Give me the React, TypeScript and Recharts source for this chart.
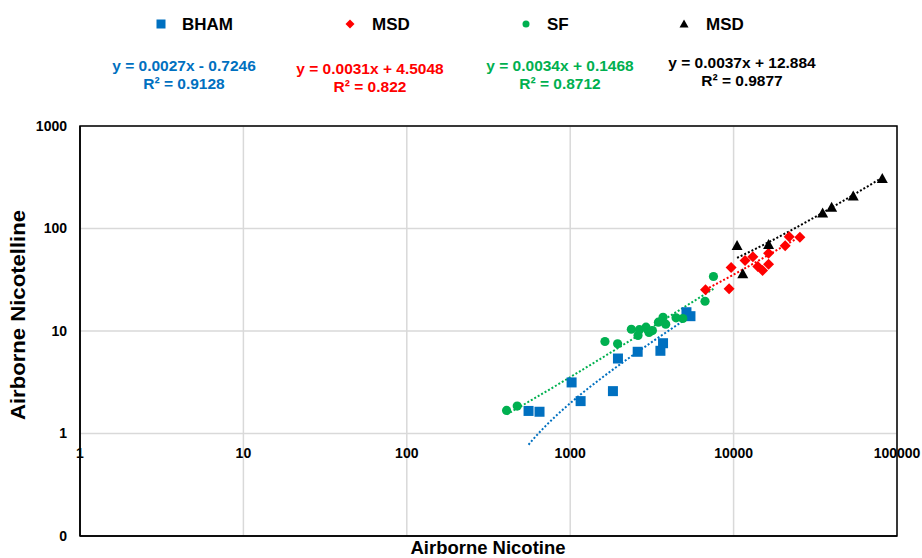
import React from 'react';
import { ScatterChart, Scatter, XAxis, YAxis, CartesianGrid, ReferenceArea } from 'recharts';

// ---- data ----
const bhamX = [556, 649, 1020, 1158, 1826, 1960, 2588, 3565, 3700, 5146, 5445];
const bhamY = [1.66, 1.63, 3.15, 2.07, 2.59, 5.39, 6.27, 6.41, 7.6, 15.25, 13.95];

const msdRedX = [6730, 9385, 9660, 11750, 13120, 14070, 15040, 16370, 16370, 20690, 21880, 25440];
const msdRedY = [25.2, 25.8, 41.6, 48.7, 52.9, 42.6, 38.9, 44.8, 57.4, 67.8, 83.0, 82.2];

const sfX = [408, 474, 1632, 1950, 2367, 2600, 2651, 2910, 3035, 3185, 3466, 3700, 3843, 4443, 4885, 6685, 7530];
const sfY = [1.68, 1.85, 7.9, 7.5, 10.4, 9.04, 10.3, 10.9, 9.67, 10.1, 12.2, 13.6, 11.65, 13.45, 13.24, 19.5, 34.0];

const msdBlackX = [10500, 11380, 16370, 35060, 39810, 53970, 81280];
const msdBlackY = [68.3, 36.1, 69.8, 142, 161, 208, 307];

const seriesNames = ['BHAM', 'MSD', 'SF', 'MSD'];
const seriesColors = ['#0070C0', '#FF0000', '#00B050', '#000000'];

// trendline coefficients as displayed (y = slope * x + intercept)
const trendSlopes = [0.0027, 0.0031, 0.0034, 0.0037];
const trendIntercepts = [-0.7246, 4.5048, 0.1468, 12.884];
const trendEquations = ['y = 0.0027x - 0.7246', 'y = 0.0031x + 4.5048', 'y = 0.0034x + 0.1468', 'y = 0.0037x + 12.884'];
const trendR2 = ['R² = 0.9128', 'R² = 0.822', 'R² = 0.8712', 'R² = 0.9877'];

const xTicks = [1, 10, 100, 1000, 10000, 100000];
const yTicks = [0.1, 1, 10, 100, 1000];

const FONT = '"Liberation Sans", Arial, sans-serif';

const zip = (xs: number[], ys: number[]) => xs.map((x, i) => ({ x, y: ys[i] }));

const seriesData = [zip(bhamX, bhamY), zip(msdRedX, msdRedY), zip(sfX, sfY), zip(msdBlackX, msdBlackY)];

// trendline drawn along each series' x range from the displayed equation
const trendData = seriesData.map((d, i) => {
  const xs = d.map((p) => p.x);
  const lo = Math.log10(Math.min(...xs));
  const hi = Math.log10(Math.max(...xs));
  const n = 40;
  const pts: { x: number; y: number }[] = [];
  for (let k = 0; k <= n; k++) {
    const x = Math.pow(10, lo + ((hi - lo) * k) / n);
    const y = trendSlopes[i] * x + trendIntercepts[i];
    if (y > 0) pts.push({ x, y });
  }
  return pts;
});

const Square = (p: any) => <rect x={p.cx - 5} y={p.cy - 5} width={10} height={10} fill="#0070C0" />;
const Diamond = (p: any) => (
  <polygon points={`${p.cx},${p.cy - 5.5} ${p.cx + 5.5},${p.cy} ${p.cx},${p.cy + 5.5} ${p.cx - 5.5},${p.cy}`} fill="#FF0000" />
);
const Circle = (p: any) => <circle cx={p.cx} cy={p.cy} r={4.6} fill="#00B050" />;
const Triangle = (p: any) => (
  <polygon points={`${p.cx},${p.cy - 5.5} ${p.cx + 5.5},${p.cy + 4.5} ${p.cx - 5.5},${p.cy + 4.5}`} fill="#000000" />
);
const NoShape = () => <g />;

const XTick = (p: any) => (
  <text x={p.x} y={p.y - 85} textAnchor="middle" dominantBaseline="central" fontFamily={FONT} fontWeight={700} fontSize={14} fill="#000">
    {p.payload.value}
  </text>
);

const legendX = [161, 350, 526, 684];
const legendTextX = [182, 372, 547, 706];
const eqCx = [184, 370, 560, 742];
const eqY1 = [65, 68, 65, 62];
const eqY2 = [83, 86, 83, 80];

const LegendMarker = ({ i, x, y }: { i: number; x: number; y: number }) => {
  if (i === 0) return <rect x={x - 4.5} y={y - 4.5} width={9} height={9} fill={seriesColors[0]} />;
  if (i === 1) return <polygon points={`${x},${y - 4.5} ${x + 4.5},${y} ${x},${y + 4.5} ${x - 4.5},${y}`} fill={seriesColors[1]} />;
  if (i === 2) return <circle cx={x} cy={y} r={3.5} fill={seriesColors[2]} />;
  return <polygon points={`${x},${y - 4.5} ${x + 4.5},${y + 3.5} ${x - 4.5},${y + 3.5}`} fill={seriesColors[3]} />;
};

export default function App() {
  return (
    <div style={{ position: 'absolute', left: 0, top: 0, width: 922, height: 558, background: '#fff' }}>
      <ScatterChart width={922} height={558} margin={{ top: 126, right: 25, bottom: 0, left: 0 }}>
        <CartesianGrid stroke="#D9D9D9" strokeWidth={1.5} />
        <XAxis
          type="number"
          dataKey="x"
          scale="log"
          domain={[1, 100000]}
          ticks={xTicks}
          allowDataOverflow
          height={22}
          tickSize={0}
          tickLine={false}
          axisLine={{ stroke: '#000', strokeWidth: 1.5 }}
          tick={<XTick />}
          interval={0}
        />
        <YAxis
          type="number"
          dataKey="y"
          scale="log"
          domain={[0.1, 1000]}
          ticks={yTicks}
          allowDataOverflow
          width={80}
          tickSize={0}
          tickMargin={13}
          tickLine={false}
          axisLine={{ stroke: '#000', strokeWidth: 1.5 }}
          interval={0}
          tickFormatter={(v: number) => (v < 1 ? '0' : String(v))}
          tick={{ fill: '#000', fontSize: 14, fontWeight: 700, fontFamily: FONT }}
        />
        {trendData.map((d, i) => (
          <Scatter
            key={`t${i}`}
            data={d}
            isAnimationActive={false}
            shape={NoShape}
            line={{ stroke: seriesColors[i], strokeWidth: 2, strokeDasharray: '2 2' }}
            lineType="joint"
          />
        ))}
        <Scatter name={seriesNames[0]} data={seriesData[0]} isAnimationActive={false} shape={Square} />
        <Scatter name={seriesNames[1]} data={seriesData[1]} isAnimationActive={false} shape={Diamond} />
        <Scatter name={seriesNames[2]} data={seriesData[2]} isAnimationActive={false} shape={Circle} />
        <Scatter name={seriesNames[3]} data={seriesData[3]} isAnimationActive={false} shape={Triangle} />
        <ReferenceArea x1={1} x2={100000} y1={0.1} y2={1000} fill="none" stroke="#000" strokeWidth={1.5} ifOverflow="visible" />
      </ScatterChart>
      <svg width={922} height={558} style={{ position: 'absolute', left: 0, top: 0, pointerEvents: 'none' }}>
        {seriesNames.map((name, i) => (
          <g key={`lg${i}`}>
            <LegendMarker i={i} x={legendX[i]} y={24} />
            <text x={legendTextX[i]} y={24} dominantBaseline="central" fontFamily={FONT} fontWeight={700} fontSize={17} fill="#000">
              {name}
            </text>
          </g>
        ))}
        {trendEquations.map((eq, i) => (
          <g key={`eq${i}`} fontFamily={FONT} fontWeight={700} fontSize={15.5} fill={seriesColors[i]} textAnchor="middle">
            <text x={eqCx[i]} y={eqY1[i]} dominantBaseline="central">{eq}</text>
            <text x={eqCx[i]} y={eqY2[i]} dominantBaseline="central">{trendR2[i]}</text>
          </g>
        ))}
        <text x={488} y={554} textAnchor="middle" fontFamily={FONT} fontWeight={700} fontSize={18} fill="#000" textLength={155} lengthAdjust="spacingAndGlyphs">
          Airborne Nicotine
        </text>
        <text
          x={18}
          y={315}
          transform="rotate(-90 18 315)"
          textAnchor="middle"
          dominantBaseline="central"
          fontFamily={FONT}
          fontWeight={700}
          fontSize={20}
          fill="#000"
          textLength={210}
          lengthAdjust="spacingAndGlyphs"
        >
          Airborne Nicotelline
        </text>
      </svg>
    </div>
  );
}
